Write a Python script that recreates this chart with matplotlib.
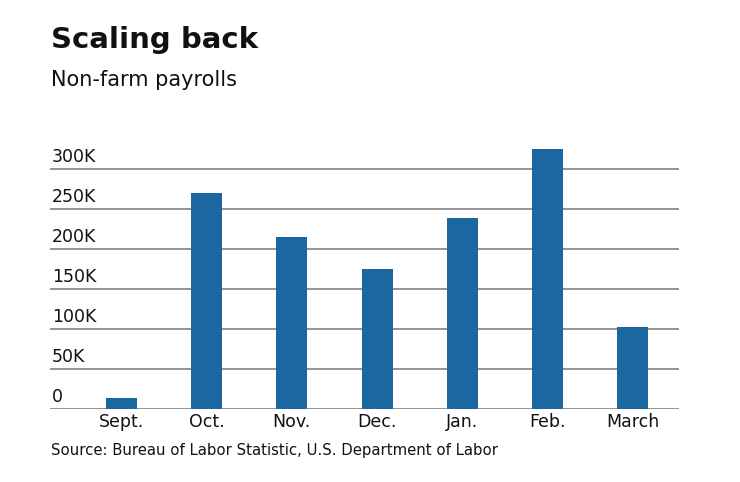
import matplotlib.pyplot as plt
import matplotlib.transforms as mtransforms

months = ["Sept.", "Oct.", "Nov.", "Dec.", "Jan.", "Feb.", "March"]
payrolls_k = [14, 271, 216, 175, 239, 326, 103]
y_ticks = [0, 50, 100, 150, 200, 250, 300]
y_labels = ["0", "50K", "100K", "150K", "200K", "250K", "300K"]

plt.rcParams["font.family"] = ["DejaVu Sans"]

W, H = 740, 482
fig = plt.figure(figsize=(W / 100, H / 100), dpi=100)

ymax = 340
px_per_k = 0.8
ax_left, ax_right = 50, 679
ax_bottom = 409.3
ax_top = ax_bottom - ymax * px_per_k
ax = fig.add_axes([ax_left / W, 1 - ax_bottom / H, (ax_right - ax_left) / W, (ax_bottom - ax_top) / H])

x = range(len(months))
ax.bar(x, payrolls_k, width=0.363, color="#1b679f", zorder=3)
ax.set_xlim(-0.835, 6.54)
ax.set_ylim(0, ymax)

for v in y_ticks:
    ax.axhline(v, color="#777777", lw=1.1, zorder=1)

# y labels sit above their gridlines, inside the plot
for v, lab in zip(y_ticks, y_labels):
    ax.text(0.003, v + 4, lab, transform=mtransforms.blended_transform_factory(ax.transAxes, ax.transData),
            ha="left", va="bottom", fontsize=12.5, color="#111111")

ax.set_xticks(list(x))
ax.set_xticklabels(months, fontsize=12.5, color="#111111")
ax.tick_params(axis="x", length=0, pad=3)
ax.set_yticks([])
for s in ax.spines.values():
    s.set_visible(False)

fig.text(51 / W, 1 - 48 / H, "Scaling back", fontsize=21, fontweight="bold", ha="left", va="baseline", color="#111111")
fig.text(51 / W, 1 - 86 / H, "Non-farm payrolls", fontsize=15, ha="left", va="baseline", color="#111111")
fig.text(51 / W, 1 - 455 / H, "Source: Bureau of Labor Statistic, U.S. Department of Labor",
         fontsize=10.7, ha="left", va="baseline", color="#111111")

fig.savefig("out.png", dpi=100)
